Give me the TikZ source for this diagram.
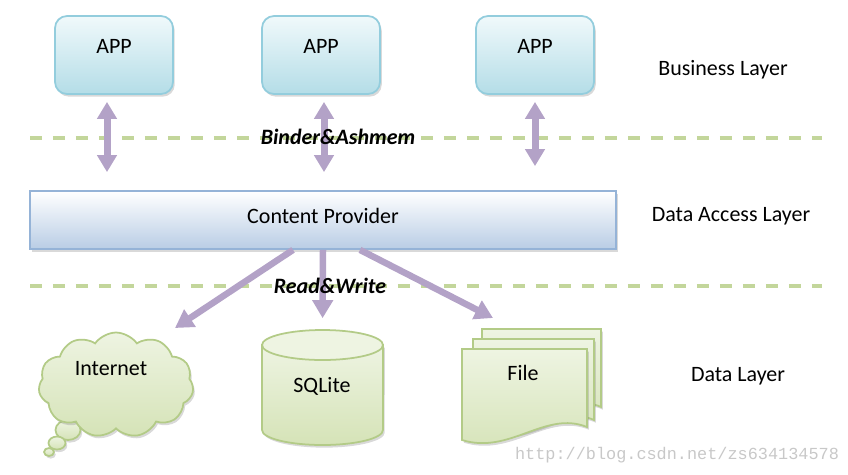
\documentclass[tikz,border=0pt]{standalone}
\usepackage{fontspec}
\setmainfont{Carlito}
\setmonofont{Liberation Mono}
\usetikzlibrary{shapes.geometric,shapes.symbols,shadows,arrows.meta}
\definecolor{appline}{HTML}{93CDDD}
\definecolor{apptop}{HTML}{F0F9FB}
\definecolor{appbot}{HTML}{B4DDE7}
\definecolor{cpline}{HTML}{95B3D7}
\definecolor{cpbot}{HTML}{B9CDE5}
\definecolor{grline}{HTML}{B3CB87}
\definecolor{grtop}{HTML}{EEF4E2}
\definecolor{grbot}{HTML}{D5E3B7}
\definecolor{sepgreen}{HTML}{C3D69B}
\definecolor{arrpurple}{HTML}{B3A2C7}
\definecolor{wmark}{HTML}{C8C8C8}
\begin{document}
\begin{tikzpicture}[x=0.02cm,y=-0.02cm,font=\fontsize{12.5}{15}\selectfont,
    shd/.style={drop shadow={shadow xshift=1pt,shadow yshift=-1.5pt,opacity=0.3}},
    app/.style={draw=appline,line width=1pt,rounded corners=0.24cm,top color=apptop,bottom color=appbot,
        minimum width=2.36cm,minimum height=1.56cm,shd},
    cp/.style={draw=cpline,line width=1pt,top color=white,bottom color=cpbot,
        minimum width=11.72cm,minimum height=1.16cm,shd},
    gr/.style={draw=grline,line width=1pt,top color=grtop,bottom color=grbot,shd},
    sep/.style={sepgreen,line width=0.07cm,dash pattern=on 0.24cm off 0.22cm},
    io/.style={arrpurple,line width=0.14cm,{Triangle[width=0.38cm,length=0.34cm]}-{Triangle[width=0.38cm,length=0.34cm]}},
    rw/.style={arrpurple,line width=0.13cm,-{Triangle[width=0.4cm,length=0.36cm]}},
    tag/.style={font=\fontsize{12.5}{15}\selectfont\bfseries\itshape}]
\useasboundingbox (0,0) rectangle (848,474);
% layer separators
\draw[sep] (30,138) -- (822,138);
\draw[sep] (30,286) -- (822,286);
% business layer
\node[app] (app1) at (114,55) {};
\node[app] (app2) at (321,55) {};
\node[app] (app3) at (535,55) {};
\node (app1t) at (114,46) {APP};
\node (app2t) at (321,46) {APP};
\node (app3t) at (535,46) {APP};
\node (bl) at (723,70) {Business Layer};
% data access layer
\node[cp] (cp) at (323,220) {};
\node (cpt) at (323,216) {Content Provider};
\node (dal) at (731,216) {Data Access Layer};
\draw[io,shorten <=0.14cm,shorten >=0.36cm] ([xshift=-0.14cm]app1.south) -- ([xshift=-0.14cm]app1.south |- cp.north);
\draw[io,shorten <=0.14cm,shorten >=0.36cm] ([xshift=0.06cm]app2.south) -- ([xshift=0.06cm]app2.south |- cp.north);
\draw[io,shorten <=0.14cm,shorten >=0.48cm] (app3.south) -- (app3.south |- cp.north);
\node[tag] (ba) at (338,137) {Binder\&Ashmem};
% data layer
\node[gr,ellipse,minimum width=0.5cm,minimum height=0.4cm,inner sep=0pt] (b1) at (68,430) {};
\node[gr,ellipse,minimum width=0.34cm,minimum height=0.26cm,inner sep=0pt] (b2) at (57,443) {};
\node[gr,ellipse,minimum width=0.2cm,minimum height=0.16cm,inner sep=0pt] (b3) at (49,452) {};
\node[gr,cloud,cloud puffs=11,cloud puff arc=110,aspect=1.5,minimum width=3.1cm,minimum height=2.1cm] (net) at (116,385) {};
\node (nett) at (111,369) {Internet};
\path[gr] (262,345) -- (262,430) arc[start angle=180,end angle=360,x radius=1.21cm,y radius=0.3cm] -- (383,345) -- cycle;
\draw[grline,line width=1pt,fill=grtop] (322.5,345) ellipse [x radius=1.21cm,y radius=0.3cm];
\node[minimum width=2.42cm,minimum height=2.3cm] (sql) at (322.5,388) {};
\node (sqlt) at (322,386) {SQLite};
\path[gr] (482,329) -- (601,329) -- (601,407) .. controls (570,392) and (535,435) .. (482,420) -- cycle;
\path[gr] (473,339) -- (594,339) -- (594,420) .. controls (562,405) and (525,448) .. (473,433) -- cycle;
\path[gr] (462,349) -- (587,349) -- (587,427) .. controls (545,410) and (510,455) .. (462,440) -- cycle;
\node (file) at (523,373) {File};
\coordinate (netin) at (175,328);
\coordinate (filein) at (493,318);
\node (dl) at (738,376) {Data Layer};
\draw[rw] ([xshift=-0.6cm]cp.south) -- (netin);
\draw[rw,shorten >=0.24cm] (cp.south) -- (sql.north);
\draw[rw] ([xshift=0.74cm]cp.south) -- (filein);
\node[tag] (rwt) at (330,286) {Read\&Write};
\node[font=\fontsize{9.6}{11}\selectfont\ttfamily,text=wmark] (wm) at (677,455) {http://blog.csdn.net/zs634134578};
\end{tikzpicture}
\end{document}
